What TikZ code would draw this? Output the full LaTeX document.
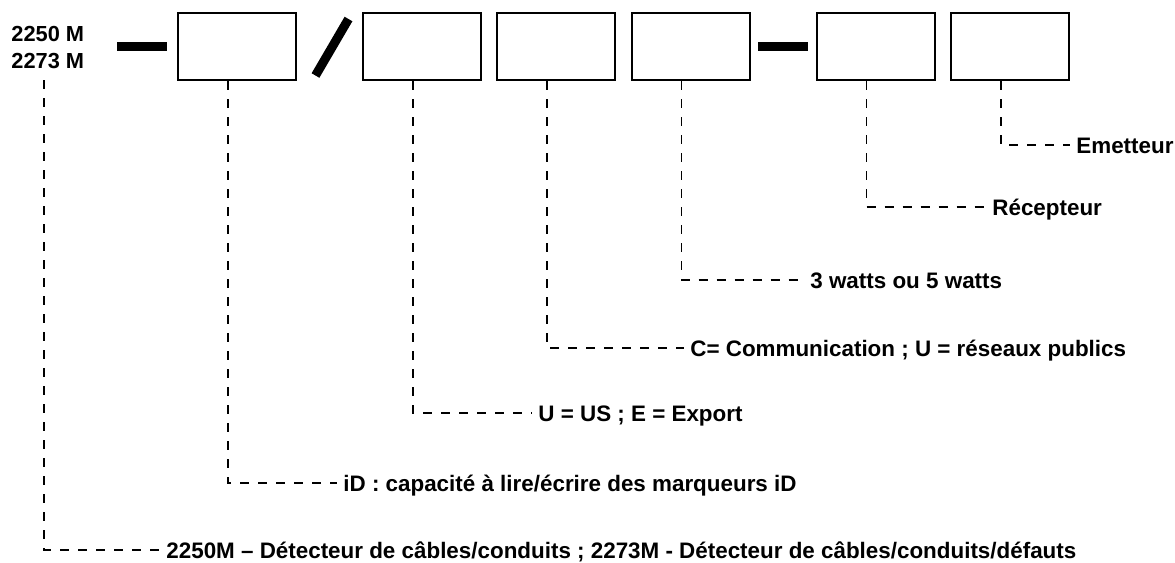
\documentclass[tikz,border=0pt]{standalone}
\usepackage{fontspec}
\setmainfont{Liberation Sans}
\begin{document}
\begin{tikzpicture}[x=0.5pt,y=-0.5pt,font=\fontsize{11.2}{13.35}\selectfont\bfseries,
  slot/.style={draw,line width=1pt,minimum width=59pt,minimum height=33.75pt,inner sep=0pt},
  lead/.style={dash pattern=on 4.5pt off 4.5pt,line width=0.75pt},
  lab/.style={anchor=west,inner xsep=3pt,inner ysep=0pt,text height=8pt,text depth=0pt}]
\useasboundingbox (0,0) rectangle (1175,563);
\node[align=left,anchor=north west,inner sep=0pt,font=\fontsize{10.9}{13.35}\selectfont\bfseries] (code) at (11,26.3) {2250 M\\2273 M};
\coordinate (c0) at (44,80);
% the six slots of the reference
\foreach \n/\x in {1/237,2/422,3/556.2,4/690.5,5/875.7,6/1010.2}
  \node[slot] (b\n) at (\x,46.25) {};
% separators
\fill (117,41.7) rectangle (167,51);
\fill (758,41.7) rectangle (808,51);
\draw[line width=4.5pt] (315.5,75.5)--(348.5,19);
% leaders and their meanings
\foreach \n/\x/\y/\t in {6/1076/145/{Emetteur},5/992/207/{Récepteur},4/810/280/{3 watts ou 5 watts},
  3/690/348/{C= Communication ; U = réseaux publics},2/538/413/{U = US ; E = Export},
  1/343/483/{iD : capacité à lire/écrire des marqueurs iD}}
  {\node[lab] (l\n) at (\x-6,\y) {\t};
   \draw[lead] ([xshift=-4.5pt]b\n.south) |- (l\n.west);}
\node[lab] (l0) at (160,550) {2250M – Détecteur de câbles/conduits ; 2273M - Détecteur de câbles/conduits/défauts};
\draw[lead] (c0) |- (l0.west);
\end{tikzpicture}
\end{document}
